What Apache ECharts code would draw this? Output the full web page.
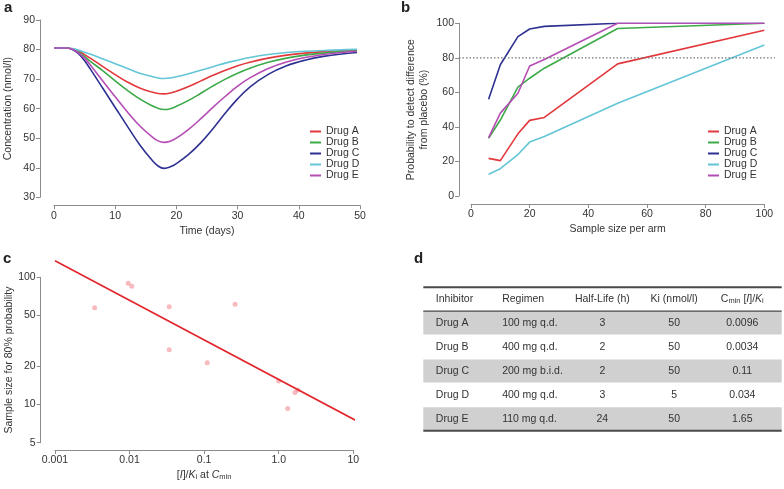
<!DOCTYPE html>
<html><head><meta charset="utf-8">
<script src="https://cdn.jsdelivr.net/npm/echarts@6/dist/echarts.min.js"></script>
<style>html,body{margin:0;padding:0;background:#fff}#c{width:784px;height:489px}</style>
</head><body><div id="c"></div>
<script>
// ---------- data ----------
const drugs = ['Drug A', 'Drug B', 'Drug C', 'Drug D', 'Drug E'];
const drugColors = ['#e2383c', '#3daa49', '#2e3192', '#63c5d6', '#b54db4'];

// panel a: concentration vs time
const timeDays = [0, 2, 3, 4, 5, 6, 8, 10, 12, 14, 16, 17, 18, 19, 20, 22, 24, 26, 28, 30, 32, 35, 38, 41, 44, 47, 49.5];
const concA = [80.5,80.5,80.2,79.4,78.3,77.0,74.2,71.5,69.0,67.0,65.6,65.1,65.0,65.3,65.9,67.5,69.4,71.3,73.0,74.5,75.7,77.1,78.1,78.8,79.3,79.6,79.8];
const concB = [80.5,80.5,80.1,79.1,77.6,75.9,72.8,69.4,66.2,63.3,61.0,60.1,59.7,60.0,60.8,62.8,65.2,67.7,70.0,72.0,73.7,75.7,77.1,78.1,78.8,79.3,79.6];
const concC = [80.5,80.5,80.0,78.6,76.2,73.2,66.8,60.4,54.0,47.8,42.6,40.6,39.8,40.3,41.4,44.5,48.5,53.3,58.5,63.3,67.3,71.6,74.5,76.4,77.7,78.5,79.0];
const concD = [80.5,80.5,80.3,79.8,79.1,78.4,76.8,75.2,73.6,72.0,70.9,70.4,70.2,70.4,70.8,71.8,73.0,74.2,75.4,76.4,77.3,78.3,79.0,79.4,79.7,79.9,80.1];
const concE = [80.5,80.5,80.1,78.9,77.0,74.6,69.3,64.0,58.9,54.2,50.5,49.1,48.6,49.0,50.0,53.0,56.6,60.5,64.2,67.6,70.4,73.6,75.8,77.3,78.3,79.0,79.4];

// panel b: probability vs sample size
const sampleSize = [6, 10, 16, 20, 25, 50, 100];
const probA = [21.8, 20.5, 36, 43.8, 45.5, 76.5, 96];
const probB = [33.4, 44, 63, 68.2, 74, 97, 100];
const probC = [56, 76, 92.3, 96.7, 98.2, 100, 100];
const probD = [12.6, 15.8, 24, 31.2, 34.4, 53.7, 87.5];
const probE = [33.8, 48, 59.5, 75.3, 79, 100, 100];
const powerThreshold = 80;

// panel c: sample size for 80% vs [I]/Ki
const ratioIK = [0.0034, 0.0096, 0.0107, 0.034, 0.034, 0.11, 0.26, 1.0, 1.32, 1.65, 1.8];
const n80 = [57.7, 89.7, 85, 58.7, 26.9, 21.3, 61.4, 15.3, 9.3, 12.4, 13.0];
const fitX = [0.001, 11.7];
const fitY = [134.9, 7.3];
const cTickLabelsX = ['0.001', '0.01', '0.1', '1.0', '10'];
const cTickValuesY = [5, 10, 20, 50, 100];

// panel d: table
const tableHeader = ['Inhibitor', 'Regimen', 'Half-Life (h)', 'Ki (nmol/l)', '{n|C}{sub|min}{n| [}{it|I}{n|]/}{it|K}{sub|i}'];
const tableInhibitor = ['Drug A', 'Drug B', 'Drug C', 'Drug D', 'Drug E'];
const tableRegimen = ['100 mg q.d.', '400 mg q.d.', '200 mg b.i.d.', '400 mg q.d.', '110 mg q.d.'];
const tableHalfLife = [3, 2, 2, 3, 24];
const tableKi = [50, 50, 50, 5, 50];
const tableCmin = ['0.0096', '0.0034', '0.11', '0.034', '1.65'];

// ---------- style ----------
const FF = '"Liberation Sans", Arial, Helvetica, sans-serif';
const axisGray = '#8c8c8c';
const textColor = '#333';
const FS = 10.5;
const colPos = [0.035, 0.22, 0.4995, 0.70, 0.89];
const colAlign = ['left', 'left', 'center', 'center', 'center'];
const richText = {
  n: { fontSize: FS, fontFamily: FF, fill: textColor, color: textColor },
  it: { fontSize: FS, fontFamily: FF, fontStyle: 'italic', fill: textColor, color: textColor },
  sub: { fontSize: 7.5, fontFamily: FF, verticalAlign: 'bottom', lineHeight: 10, fill: textColor, color: textColor }
};

function axis(extra) {
  const base = {
    axisLine: { show: true, onZero: false, lineStyle: { color: axisGray, width: 1 } },
    axisTick: { show: true, length: 4, lineStyle: { color: axisGray, width: 1 } },
    axisLabel: { color: textColor, fontSize: FS, margin: 5, fontFamily: FF, showMinLabel: true, showMaxLabel: true },
    splitLine: { show: false },
    nameLocation: 'middle',
    nameTextStyle: { color: textColor, fontSize: FS, fontFamily: FF }
  };
  for (const k in extra) {
    if (typeof extra[k] === 'object' && base[k] && !Array.isArray(extra[k])) base[k] = Object.assign({}, base[k], extra[k]);
    else base[k] = extra[k];
  }
  return base;
}
function hiddenAxis(extra) {
  return Object.assign({ show: false, type: 'value', axisLine: { show: false, onZero: false }, axisTick: { show: false }, axisLabel: { show: false }, splitLine: { show: false } }, extra);
}
const zip = (xs, ys) => xs.map((x, i) => [x, ys[i]]);

const concSeries = [concA, concB, concC, concD, concE];
const probSeries = [probA, probB, probC, probD, probE];

const series = [];
concSeries.forEach((vals, i) => series.push({
  type: 'line', name: drugs[i], xAxisIndex: 0, yAxisIndex: 0,
  data: zip(timeDays, vals), smooth: 0.4, symbol: 'none',
  lineStyle: { color: drugColors[i], width: 1.6 }, itemStyle: { color: drugColors[i] }
}));
probSeries.forEach((vals, i) => series.push({
  type: 'line', name: drugs[i], xAxisIndex: 1, yAxisIndex: 1,
  data: zip(sampleSize, vals), symbol: 'none',
  lineStyle: { color: drugColors[i], width: 1.6 }, itemStyle: { color: drugColors[i] }
}));
series.push({
  type: 'line', name: 'threshold', xAxisIndex: 2, yAxisIndex: 2,
  data: [[0, powerThreshold], [1, powerThreshold]], symbol: 'none', silent: true,
  lineStyle: { color: '#777', width: 1.3, type: [1.5, 2] }
});
series.push({
  type: 'scatter', name: 'obs', xAxisIndex: 3, yAxisIndex: 3,
  data: zip(ratioIK.map(Math.log10), n80.map(Math.log10)),
  symbolSize: 5, itemStyle: { color: 'rgba(238,110,122,0.6)' }, z: 2
});
series.push({
  type: 'line', name: 'fit', xAxisIndex: 3, yAxisIndex: 3, clip: false,
  data: zip(fitX.map(Math.log10), fitY.map(Math.log10)), symbol: 'none',
  lineStyle: { color: '#e2262c', width: 1.6 }, z: 3
});
series.push({
  type: 'custom', name: 'table', xAxisIndex: 4, yAxisIndex: 4, clip: false,
  data: [0, 1, 2, 3, 4, 5].map(r => [0, r]),
  encode: { x: 0, y: 1 },
  renderItem: function (params, api) {
    const row = api.value(1);
    const cs = params.coordSys;
    const c = api.coord([0, row]);
    const bh = api.size([1, 1])[1];
    const yTop = c[1] - bh / 2;
    const children = [];
    if (row % 2 === 1) {
      children.push({ type: 'rect', shape: { x: cs.x, y: yTop + 0.5, width: cs.width, height: bh - 1 }, style: { fill: '#d0d0d0' } });
    }
    const cells = row === 0 ? tableHeader :
      [tableInhibitor[row - 1], tableRegimen[row - 1], String(tableHalfLife[row - 1]), String(tableKi[row - 1]), tableCmin[row - 1]];
    cells.forEach((txt, j) => children.push({
      type: 'text', x: cs.x + colPos[j] * cs.width, y: c[1],
      style: { text: txt, rich: richText, align: colAlign[j], verticalAlign: 'middle', fill: textColor, fontSize: FS, fontFamily: FF }
    }));
    if (row === 0) {
      children.push({ type: 'line', shape: { x1: cs.x, y1: yTop, x2: cs.x + cs.width, y2: yTop }, style: { stroke: '#4a4a4a', lineWidth: 2 } });
      children.push({ type: 'line', shape: { x1: cs.x, y1: yTop + bh, x2: cs.x + cs.width, y2: yTop + bh }, style: { stroke: '#4a4a4a', lineWidth: 1.6 } });
    }
    if (row === 5) {
      children.push({ type: 'line', shape: { x1: cs.x, y1: yTop + bh, x2: cs.x + cs.width, y2: yTop + bh }, style: { stroke: '#4a4a4a', lineWidth: 2 } });
    }
    return { type: 'group', children: children };
  }
});

const legendBase = {
  data: drugs, orient: 'vertical', icon: 'rect', itemWidth: 11, itemHeight: 2, itemGap: 0, padding: 0,
  selectedMode: false,
  textStyle: { color: textColor, fontSize: FS, lineHeight: 10.5, fontFamily: FF }
};

const option = {
  animation: false,
  backgroundColor: '#fff',
  textStyle: { fontFamily: FF },
  title: [
    { text: 'a', left: 4, top: 0, padding: 0, textStyle: { fontSize: 15, fontWeight: 'bold', color: '#222', fontFamily: FF } },
    { text: 'b', left: 401, top: 0, padding: 0, textStyle: { fontSize: 15, fontWeight: 'bold', color: '#222', fontFamily: FF } },
    { text: 'c', left: 3, top: 251, padding: 0, textStyle: { fontSize: 15, fontWeight: 'bold', color: '#222', fontFamily: FF } },
    { text: 'd', left: 414, top: 251, padding: 0, textStyle: { fontSize: 15, fontWeight: 'bold', color: '#222', fontFamily: FF } }
  ],
  legend: [
    Object.assign({ left: 310, top: 126 }, legendBase),
    Object.assign({ left: 708, top: 126 }, legendBase)
  ],
  grid: [
    { left: 54, top: 20, width: 306, height: 177.3, outerBoundsMode: 'none' },
    { left: 471, top: 23.3, width: 293.3, height: 172.7, outerBoundsMode: 'none' },
    { left: 459, top: 23.3, width: 316, height: 172.7, outerBoundsMode: 'none' },
    { left: 55, top: 277.3, width: 298.3, height: 165.4, outerBoundsMode: 'none' },
    { left: 423.3, top: 287.3, width: 358.4, height: 143.4, outerBoundsMode: 'none' }
  ],
  xAxis: [
    axis({ gridIndex: 0, type: 'value', min: 0, max: 50, interval: 10, offset: 8, name: 'Time (days)', nameGap: 20 }),
    axis({ gridIndex: 1, type: 'value', min: 0, max: 100, interval: 20, offset: 8, name: 'Sample size per arm', nameGap: 20 }),
    hiddenAxis({ gridIndex: 2, min: 0, max: 1 }),
    axis({ gridIndex: 3, type: 'value', min: -3, max: 1, interval: 1, offset: 7.3,
      name: '{n|[}{it|I}{n|]/}{it|K}{sub|i}{n| at }{it|C}{sub|min}', nameGap: 20,
      nameTextStyle: { rich: richText },
      axisLabel: { formatter: v => cTickLabelsX[Math.round(v) + 3] } }),
    hiddenAxis({ gridIndex: 4, min: 0, max: 1 })
  ],
  yAxis: [
    axis({ gridIndex: 0, type: 'value', min: 30, max: 90, interval: 10, offset: 14, name: 'Concentration (nmol/l)', nameGap: 26 }),
    axis({ gridIndex: 1, type: 'value', min: 0, max: 100, interval: 20, offset: 12,
      name: 'Probability to detect difference\nfrom placebo (%)', nameGap: 28,
      nameTextStyle: { lineHeight: 13 } }),
    hiddenAxis({ gridIndex: 2, min: 0, max: 100 }),
    axis({ gridIndex: 3, type: 'value', min: Math.log10(5), max: 2, offset: 14.3,
      name: 'Sample size for 80% probability', nameGap: 26,
      axisTick: { customValues: cTickValuesY.map(Math.log10) },
      axisLabel: { customValues: cTickValuesY.map(Math.log10), formatter: v => String(Math.round(Math.pow(10, v))) } }),
    hiddenAxis({ gridIndex: 4, type: 'category', inverse: true, data: ['h', '1', '2', '3', '4', '5'] })
  ],
  series: series
};

const chart = echarts.init(document.getElementById('c'), null, { renderer: 'canvas' });
chart.setOption(option);
</script>
</body></html>
